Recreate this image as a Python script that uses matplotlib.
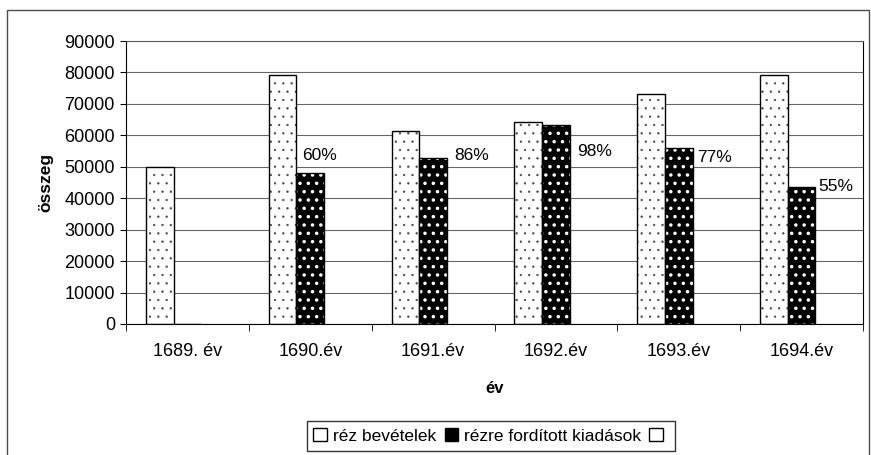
import matplotlib.pyplot as plt
import numpy as np
from matplotlib.patches import Patch, Rectangle

plt.rcParams['font.family'] = ['Liberation Sans', 'DejaVu Sans']

# adatok
evek = ["1689. év", "1690.év", "1691.év", "1692.év", "1693.év", "1694.év"]
bevetelek = [50000, 79100, 61400, 64200, 73300, 79100]
kiadasok = [0, 48000, 52900, 63200, 56100, 43600]
harmadik = [0, 0, 0, 0, 0, 0]

# százalékos címkék (melyik év, szöveg, eltolás, magasság)
szazalek_idx = [1, 2, 3, 4, 5]
szazalek_txt = ["60%", "86%", "98%", "77%", "55%"]
szazalek_dx = [-0.067, 0.171, 0.173, 0.15, 0.135]
szazalek_y = [53700, 53700, 54700, 53100, 43800]

x = np.arange(len(evek))
w = 0.225

fig = plt.figure(figsize=(8.71, 4.55), dpi=100)
ax = fig.add_axes([126 / 871, 1 - 324 / 455, (863 - 126) / 871, (324 - 41) / 455])

# külső keret
fig.patches.append(Rectangle((7 / 871, -0.05), (869 - 7) / 871, 1.05 - 10 / 455,
                             transform=fig.transFigure, fill=False,
                             edgecolor="0.3", linewidth=1.0))

ax.set_axisbelow(True)
ax.yaxis.grid(True, color="0.4", linewidth=0.8)

with plt.rc_context({'hatch.linewidth': 0.4}):
    ax.bar(x - w, bevetelek, w, color="white", edgecolor="0.25", hatch="..", linewidth=0)
ax.bar(x - w, bevetelek, w, fill=False, edgecolor="black", linewidth=1.0)
with plt.rc_context({'hatch.linewidth': 1.3}):
    ax.bar(x, kiadasok, w, color="black", edgecolor="white", hatch="..", linewidth=0)
ax.bar(x, kiadasok, w, fill=False, edgecolor="black", linewidth=1.0)
ax.bar(x + w, harmadik, w, color="white", edgecolor="black", linewidth=0)

for i, t, dx, yy in zip(szazalek_idx, szazalek_txt, szazalek_dx, szazalek_y):
    ax.text(i + dx, yy, t, ha="left", va="center", fontsize=12.5)

ax.set_xlim(-0.5, len(evek) - 0.5)
ax.set_ylim(0, 90000)
ax.set_yticks(np.arange(0, 90001, 10000))
ax.tick_params(axis="y", labelsize=13, length=4, direction="out", pad=4)
ax.set_xticks(x)
ax.set_xticklabels(evek, fontsize=13)
ax.tick_params(axis="x", which="major", length=0, pad=14)
ax.set_xticks(np.arange(-0.5, len(evek), 1), minor=True)
ax.tick_params(axis="x", which="minor", length=5, direction="out")

for s in ["left", "bottom", "right"]:
    ax.spines[s].set_color("black")
ax.spines["top"].set_color("0.35")

ax.set_ylabel("összeg", fontsize=12.5, fontweight="bold", labelpad=8)
ax.set_xlabel("év", fontsize=12, fontweight="bold", labelpad=15)

h1 = Patch(facecolor="white", edgecolor="black")
h2 = Patch(facecolor="black", edgecolor="black")
h3 = Patch(facecolor="white", edgecolor="black")
leg = fig.legend([h1, h2, h3], ["réz bevételek", "rézre fordított kiadások", ""],
                 loc="center", bbox_to_anchor=(491 / 871, 1 - 436 / 455), ncol=3,
                 fontsize=12.5, frameon=True, fancybox=False, edgecolor="black",
                 handlelength=0.8, handleheight=0.8, handletextpad=0.3,
                 columnspacing=0.5, borderpad=0.4, borderaxespad=0)
leg.get_frame().set_linewidth(1.0)

plt.savefig("out.png", dpi=100)
